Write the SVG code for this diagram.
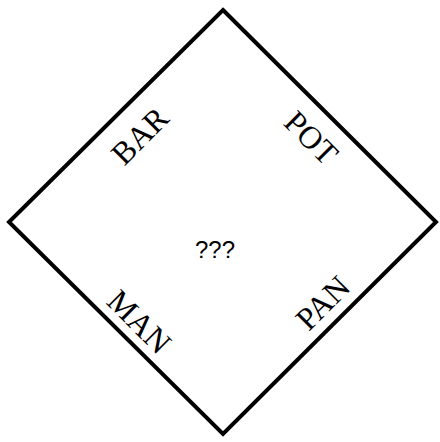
<svg xmlns="http://www.w3.org/2000/svg" width="440" height="442" viewBox="0 0 440 442">
<style>
.lbl{font-family:"Liberation Serif","Times New Roman",serif;font-size:32px;fill:#000;text-anchor:middle}
.q{font-family:"Liberation Sans",Arial,sans-serif;font-size:24px;fill:#000;text-anchor:middle}
</style>
<rect width="440" height="442" fill="#fff"/>
<g id="diamond">
<polygon points="223,10 436,222 223,434 9,222" fill="none" stroke="#000" stroke-width="4" stroke-linejoin="miter"/>
</g>
<g id="bar"><text class="lbl" transform="translate(140,136) rotate(-45)" y="10.5">BAR</text></g>
<g id="pot"><text class="lbl" transform="translate(311,138) rotate(45)" y="10.5">POT</text></g>
<g id="man"><text class="lbl" transform="translate(139,322) rotate(45)" y="10.5">MAN</text></g>
<g id="pan"><text class="lbl" transform="translate(323,303) rotate(-45)" y="10.5">PAN</text></g>
<g id="center"><text class="q" x="215" y="258">???</text></g>
</svg>
